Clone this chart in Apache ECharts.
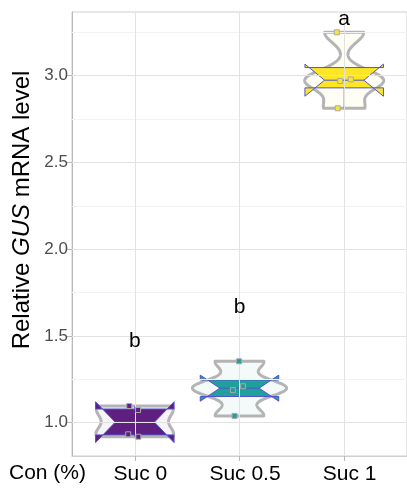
<!DOCTYPE html>
<html>
<head>
<meta charset="utf-8">
<script src="https://cdn.jsdelivr.net/npm/echarts@6/dist/echarts.min.js"></script>
<style>
  html, body { margin: 0; padding: 0; background: #ffffff; }
  #chart { width: 407px; height: 489px; }
</style>
</head>
<body>
<div id="chart"></div>
<script>
// Relative GUS mRNA level per sucrose treatment, four replicates each
const categories = ['Suc 0', 'Suc 0.5', 'Suc 1'];
const sucrose0 = [1.096, 1.073, 0.933, 0.919];
const sucrose05 = [1.354, 1.188, 1.210, 1.039];
const sucrose1 = [3.250, 2.969, 2.979, 2.812];
// horizontal jitter of each replicate, in category units
const jitter0 = [-0.053, 0.031, -0.063, 0.034];
const jitter05 = [-0.004, -0.063, 0.034, -0.047];
const jitter1 = [-0.071, -0.038, 0.063, -0.062];
// significance letters and the height they sit at
const groupLetters = ['b', 'b', 'a'];
const letterHeights = [1.47, 1.665, 3.325];
const yTickValues = [1.0, 1.5, 2.0, 2.5, 3.0];
const yMinorValues = [1.25, 1.75, 2.25, 2.75, 3.25];

const samples = [sucrose0, sucrose05, sucrose1];
const jitters = [jitter0, jitter05, jitter1];
const fills = ['#5e1f80', '#1fa09d', '#fde725'];
const boxLine = '#5252cf';
const violinLine = '#b4b4b4';
const FONT = 'Liberation Sans, Arial, sans-serif';

// ---- summary statistics (quantile type 7, nrd0 bandwidth, gaussian KDE) ----
function quantile(sorted, p) {
  const h = (sorted.length - 1) * p;
  const lo = Math.floor(h), hi = Math.ceil(h);
  return sorted[lo] + (h - lo) * (sorted[hi] - sorted[lo]);
}
function stdev(a) {
  const m = a.reduce((s, v) => s + v, 0) / a.length;
  return Math.sqrt(a.reduce((s, v) => s + (v - m) * (v - m), 0) / (a.length - 1));
}
function bandwidth(a) {
  const s = a.slice().sort((x, y) => x - y);
  const hi = stdev(a);
  const iqr = quantile(s, 0.75) - quantile(s, 0.25);
  let lo = Math.min(hi, iqr / 1.34);
  if (!lo) lo = hi || 1;
  return 0.9 * lo * Math.pow(a.length, -0.2);
}
function density(a, steps) {
  const bw = bandwidth(a);
  const min = Math.min(...a), max = Math.max(...a);
  const out = [];
  for (let k = 0; k <= steps; k++) {
    const y = min + (max - min) * k / steps;
    let d = 0;
    a.forEach(v => { const z = (y - v) / bw; d += Math.exp(-0.5 * z * z); });
    out.push([y, d / (a.length * bw * Math.sqrt(2 * Math.PI))]);
  }
  return out;
}
const stats = samples.map(a => {
  const s = a.slice().sort((x, y) => x - y);
  const q1 = quantile(s, 0.25), med = quantile(s, 0.5), q3 = quantile(s, 0.75);
  const iqr = q3 - q1;
  const notch = 1.58 * iqr / Math.sqrt(s.length);
  const inside = s.filter(v => v >= q1 - 1.5 * iqr && v <= q3 + 1.5 * iqr);
  return {
    q1, med, q3,
    nLow: med - notch, nHigh: med + notch,
    wLow: Math.min(...inside), wHigh: Math.max(...inside),
    dens: density(a, 200)
  };
});
const densMax = Math.max(...stats.map(st => Math.max(...st.dens.map(p => p[1]))));

const VIOLIN_HALF = 0.45;
const BOX_HALF = 0.375;
const NOTCH_INDENT = 0.1875;

function renderGroup(params, api) {
  const i = api.value(0);
  const st = stats[i];
  const cx = i + 1;
  const left = [], right = [];
  st.dens.forEach(([y, d]) => {
    const w = VIOLIN_HALF * d / densMax;
    left.push(api.coord([cx - w, y]));
    right.push(api.coord([cx + w, y]));
  });
  const violin = left.concat(right.reverse());
  const x0 = cx - BOX_HALF, x1 = cx + BOX_HALF;
  const box = [
    [x0, st.q3], [x0, st.nHigh], [x0 + NOTCH_INDENT, st.med], [x0, st.nLow], [x0, st.q1],
    [x1, st.q1], [x1, st.nLow], [x1 - NOTCH_INDENT, st.med], [x1, st.nHigh], [x1, st.q3]
  ].map(p => api.coord(p));
  const seg = (a, b) => ({
    type: 'line',
    shape: { x1: a[0], y1: a[1], x2: b[0], y2: b[1] },
    style: { stroke: boxLine, lineWidth: 1 }
  });
  return {
    type: 'group',
    children: [
      { type: 'polygon', shape: { points: violin },
        style: { fill: echarts.color.modifyAlpha(fills[i], 0.05), stroke: violinLine, lineWidth: 3, lineJoin: 'round' } },
      seg(api.coord([cx, st.q3]), api.coord([cx, st.wHigh])),
      seg(api.coord([cx, st.q1]), api.coord([cx, st.wLow])),
      { type: 'polygon', shape: { points: box },
        style: { fill: fills[i], stroke: boxLine, lineWidth: 1 } },
      seg(api.coord([x0 + NOTCH_INDENT, st.med]), api.coord([x1 - NOTCH_INDENT, st.med]))
    ]
  };
}

function renderLetter(params, api) {
  const p = api.coord([api.value(0), api.value(1)]);
  return {
    type: 'text',
    x: p[0], y: p[1],
    style: { text: groupLetters[params.dataIndex], fontSize: 21, fill: '#000000', align: 'center', verticalAlign: 'middle', fontFamily: FONT }
  };
}

const gridLines = {
  type: 'line', data: [], silent: true,
  markLine: {
    silent: true, symbol: ['none', 'none'], label: { show: false }, animation: false,
    data: [
      ...yMinorValues.map(v => ({ yAxis: v, lineStyle: { color: '#f2f2f2', width: 1, type: 'solid' } })),
      ...yTickValues.map(v => ({ yAxis: v, lineStyle: { color: '#e2e2e2', width: 1, type: 'solid' } })),
      ...categories.map((c, i) => ({ xAxis: i + 1, lineStyle: { color: '#e2e2e2', width: 1, type: 'solid' } }))
    ]
  }
};

const pointSeries = samples.map((a, i) => ({
  type: 'scatter',
  symbol: 'rect',
  symbolSize: 5,
  itemStyle: { color: fills[i], borderColor: '#a9a9a9', borderWidth: 1, opacity: 1 },
  data: a.map((v, k) => [i + 1 + jitters[i][k], v]),
  z: 5
}));

const chart = echarts.init(document.getElementById('chart'), null, { renderer: 'canvas' });
chart.setOption({
  animation: false,
  backgroundColor: '#ffffff',
  grid: { left: 72, top: 12, width: 340, height: 444, show: true, borderColor: '#cfcfcf', borderWidth: 1, backgroundColor: 'transparent' },
  xAxis: {
    type: 'value', min: 0.4, max: 3.6,
    splitLine: { show: false },
    axisLine: { show: true, onZero: false, lineStyle: { color: '#cfcfcf' } },
    axisTick: { show: true, customValues: [1, 2, 3], length: 5, lineStyle: { color: '#b8b8b8' } },
    axisLabel: { customValues: [1, 2, 3], formatter: v => categories[Math.round(v) - 1], fontSize: 21, color: '#000000', margin: 8, padding: [0, 0, 0, 11], fontFamily: FONT }
  },
  yAxis: {
    type: 'value', min: 0.808, max: 3.367,
    splitLine: { show: false },
    axisLine: { show: true, onZero: false, lineStyle: { color: '#b8b8b8' } },
    axisTick: { show: true, customValues: yTickValues, length: 5, lineStyle: { color: '#b8b8b8' } },
    axisLabel: { customValues: yTickValues, formatter: v => v.toFixed(1), fontSize: 17, color: '#4d4d4d', margin: 4, fontFamily: FONT }
  },
  graphic: [
    { type: 'text', x: 9, y: 473,
      style: { text: 'Con (%)', fontSize: 21, fill: '#000000', verticalAlign: 'middle', fontFamily: FONT } },
    { type: 'text', x: 22, y: 210, rotation: Math.PI / 2,
      style: {
        text: '{n|Relative }{i|GUS}{n| mRNA level}', align: 'center', verticalAlign: 'middle',
        rich: {
          n: { fontSize: 24, fill: '#000000', fontFamily: FONT },
          i: { fontSize: 24, fill: '#000000', fontStyle: 'italic', fontFamily: FONT }
        }
      } }
  ],
  series: [
    gridLines,
    {
      type: 'custom',
      renderItem: renderGroup,
      data: categories.map((c, i) => [i]),
      encode: { x: 0, y: 0 },
      z: 3
    },
    ...pointSeries,
    {
      type: 'custom',
      renderItem: renderLetter,
      data: groupLetters.map((l, i) => [i + 1, letterHeights[i]]),
      encode: { x: 0, y: 1 },
      z: 6
    }
  ]
});
</script>
</body>
</html>
